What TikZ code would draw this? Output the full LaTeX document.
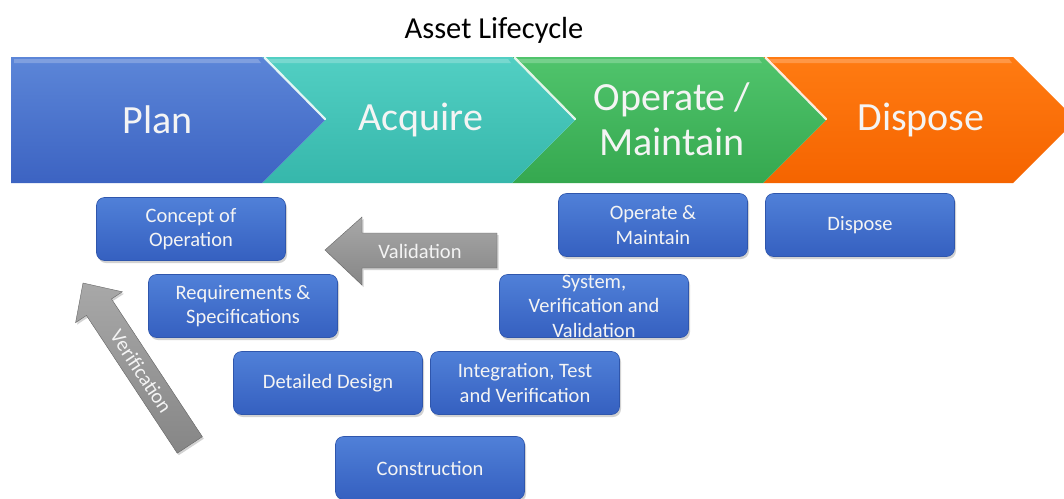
\documentclass[tikz,border=0pt]{standalone}
\usepackage{fontspec}
\setmainfont{Carlito}
\usetikzlibrary{shadows}
\definecolor{plantop}{HTML}{5C86D8}
\definecolor{planbot}{HTML}{3C63C2}
\definecolor{acqtop}{HTML}{52CFC3}
\definecolor{acqbot}{HTML}{36B7AB}
\definecolor{optop}{HTML}{50C46C}
\definecolor{opbot}{HTML}{35A84F}
\definecolor{distop}{HTML}{FF7B12}
\definecolor{disbot}{HTML}{F56400}
\definecolor{boxtop}{HTML}{5080D8}
\definecolor{boxbot}{HTML}{3560C0}
\definecolor{boxedge}{HTML}{2F56AC}
\definecolor{graytop}{HTML}{A8A8A8}
\definecolor{graybot}{HTML}{868686}
\definecolor{txtlight}{HTML}{F4F4F4}
\tikzset{
  phase/.style={text=txtlight, font=\fontsize{40}{45}\selectfont, align=center, inner sep=0pt},
  box/.style={rounded corners=8pt, minimum width=189pt, minimum height=63pt,
    top color=boxtop, bottom color=boxbot, draw=boxedge, line width=0.6pt,
    text=txtlight, font=\fontsize{20.5}{24.5}\selectfont, align=center,
    drop shadow={shadow xshift=1.5pt, shadow yshift=-2.5pt, opacity=0.35}},
  boxtext/.style={text=txtlight, font=\fontsize{20.5}{24.5}\selectfont, align=center, inner sep=0pt},
  grayarrow/.style={top color=graytop, bottom color=graybot, draw=gray!80!black, line width=0.4pt,
    drop shadow={shadow xshift=1.5pt, shadow yshift=-2pt, opacity=0.35}},
  arrowtext/.style={text=txtlight, font=\fontsize{20.5}{24}\selectfont, inner sep=0pt},
  bevel/.style={white, line width=2.2pt, opacity=0.85, line cap=round},
  gloss/.style={white, opacity=0.22}
}
\begin{document}
\begin{tikzpicture}[x=1pt,y=-1pt]
\useasboundingbox (0,0) rectangle (1064,498);
\fill[white] (0,0) rectangle (1064,498);

% title
\node[font=\fontsize{30.5}{34}\selectfont, inner sep=0pt] (title) at (494,30) {Asset Lifecycle};

% chevron band
\shade[top color=distop, bottom color=disbot] (763,57) -- (1013,57) -- (1076,120) -- (1013,183) -- (763,183) -- (826,120) -- cycle;
\shade[top color=optop, bottom color=opbot] (512,57) -- (763,57) -- (826,120) -- (763,183) -- (512,183) -- (575,120) -- cycle;
\shade[top color=acqtop, bottom color=acqbot] (262,57) -- (512,57) -- (575,120) -- (512,183) -- (262,183) -- (325,120) -- cycle;
\shade[top color=plantop, bottom color=planbot] (11,57) -- (262,57) -- (325,120) -- (262,183) -- (11,183) -- cycle;

% gloss strips
\fill[gloss] (14,59) -- (258,59) -- (261,63) -- (14,63) -- cycle;
\fill[gloss] (268,59) -- (508,59) -- (511,63) -- (272,63) -- cycle;
\fill[gloss] (518,59) -- (759,59) -- (762,63) -- (522,63) -- cycle;
\fill[gloss] (769,59) -- (1009,59) -- (1012,63) -- (773,63) -- cycle;

% bevel lines at notches
\draw[bevel] (265,58) -- (325,119);
\draw[bevel] (515,58) -- (575,119);
\draw[bevel] (766,58) -- (826,119);

% phase labels
\node[phase] (plan) at (158,120) {Plan};
\node[phase] (acquire) at (421,120) {Acquire};
\node[phase] (operate) at (672,119) {Operate /\\Maintain};
\node[phase] (dispose) at (921,120) {Dispose};

% boxes
\node[box] (concept) at (191,229) {Concept of\\Operation};
\node[box] (req) at (243,306) {Requirements \&\\Specifications};
\node[box] (design) at (328,383) {Detailed Design};
\node[box] (integ) at (525,383) {Integration, Test\\and Verification};
\node[box] (constr) at (430,468) {Construction};
\node[box] (sysbox) at (594,306) {};
\node[boxtext] (systext) at (sysbox.center) {System,\\Verification and\\Validation};
\node[box] (opmain) at (653,225) {Operate \&\\Maintain};
\node[box] (disbox) at (860,225) {Dispose};

% validation arrow
\path[grayarrow] (325,250) -- (362,217) -- (362,233) -- (497,233) -- (497,268) -- (362,268) -- (362,285) -- cycle;
\node[arrowtext] (valtext) at (420,251) {Validation};

% verification arrow
\begin{scope}[shift={(83,283)}, rotate=-56.6]
\path[grayarrow] (0,0) -- (29,-28) -- (29,-15) -- (194,-15) -- (194,15) -- (29,15) -- (29,28) -- cycle;
\node[arrowtext, transform shape] (vertext) at (106,0) {Verification};
\end{scope}
\end{tikzpicture}
\end{document}
